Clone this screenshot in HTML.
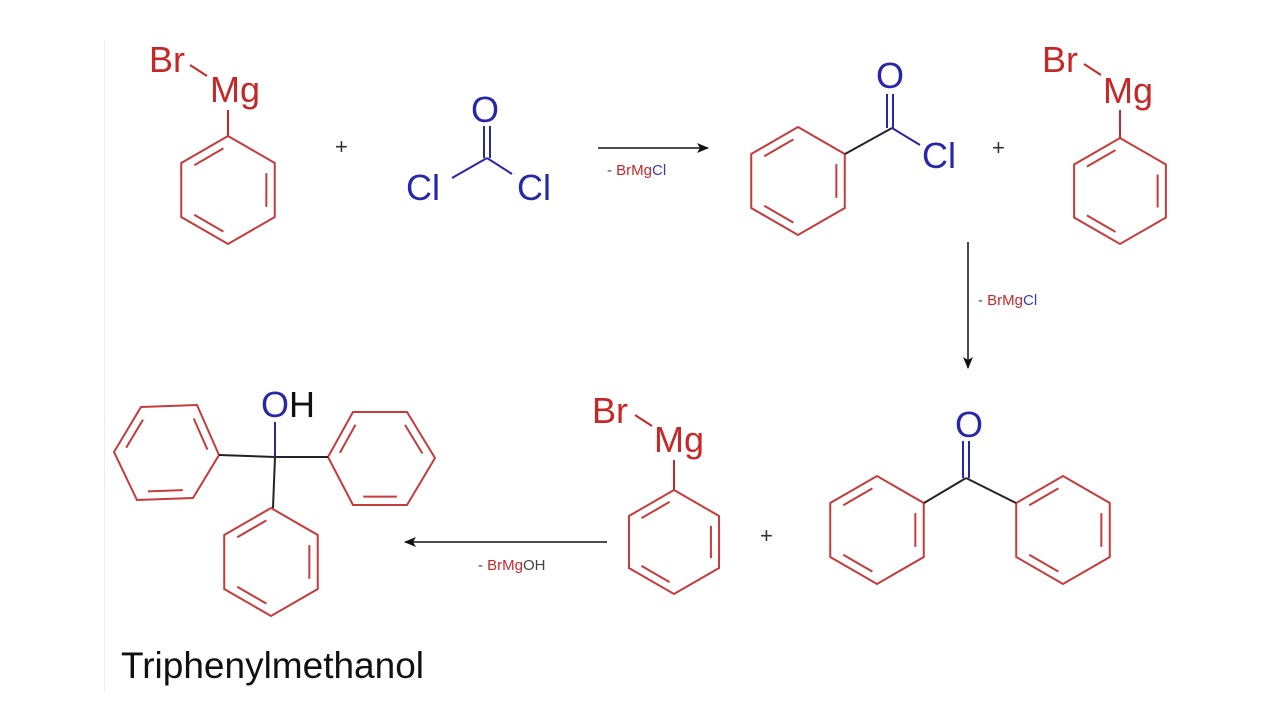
<!DOCTYPE html>
<html><head><meta charset="utf-8"><style>
html,body{margin:0;padding:0;background:#fff;}
svg{display:block;}
text{font-family:"Liberation Sans",Arial,sans-serif;}
</style></head><body>
<svg id="s" width="1280" height="720" viewBox="0 0 1280 720" xmlns="http://www.w3.org/2000/svg">
<rect width="1280" height="720" fill="#fff"/>
<line x1="104.5" y1="40" x2="104.5" y2="692" stroke="#eee" stroke-width="1"/>
<defs>
<marker id="ah" markerWidth="12" markerHeight="10" refX="11" refY="5" orient="auto" markerUnits="userSpaceOnUse">
<path d="M0,0 L12,5 L0,10 L3,5 Z" fill="#111"/></marker>
</defs>
<g id="rings" fill="none" stroke="#c63b3b" stroke-width="2"></g>
<g stroke-width="2" fill="none">
<line x1="190" y1="65" x2="207" y2="76" stroke="#c62828"/>
<line x1="228" y1="110" x2="228" y2="137" stroke="#c62828"/>
<line x1="484" y1="126" x2="484" y2="158" stroke="#2727a8"/>
<line x1="490" y1="126" x2="490" y2="158" stroke="#2727a8"/>
<line x1="487" y1="158" x2="452" y2="178" stroke="#2727a8"/>
<line x1="487" y1="158" x2="512" y2="174" stroke="#2727a8"/>
<line x1="598" y1="148" x2="708" y2="148" stroke="#111" stroke-width="1.5" marker-end="url(#ah)"/>
<line x1="845" y1="154" x2="892" y2="128" stroke="#222"/>
<line x1="892" y1="128" x2="920" y2="145" stroke="#2727a8"/>
<line x1="887" y1="94" x2="887" y2="128" stroke="#2727a8"/>
<line x1="893" y1="94" x2="893" y2="128" stroke="#2727a8"/>
<line x1="1084" y1="64" x2="1101" y2="75" stroke="#c62828"/>
<line x1="1120" y1="110" x2="1120" y2="138" stroke="#c62828"/>
<line x1="968" y1="242" x2="968" y2="368" stroke="#111" stroke-width="1.5" marker-end="url(#ah)"/>
<line x1="924" y1="503" x2="966" y2="478" stroke="#222"/>
<line x1="966" y1="478" x2="1016" y2="503" stroke="#222"/>
<line x1="963" y1="441" x2="963" y2="478" stroke="#2727a8"/>
<line x1="969" y1="441" x2="969" y2="478" stroke="#2727a8"/>
<line x1="635" y1="415" x2="652" y2="426" stroke="#c62828"/>
<line x1="674" y1="460" x2="674" y2="490" stroke="#c62828"/>
<line x1="607" y1="542" x2="405" y2="542" stroke="#111" stroke-width="1.5" marker-end="url(#ah)"/>
<line x1="219" y1="455" x2="275" y2="457" stroke="#222"/>
<line x1="275" y1="457" x2="328" y2="457" stroke="#222"/>
<line x1="275" y1="457" x2="273" y2="508" stroke="#222"/>
<line x1="275" y1="457" x2="275" y2="422" stroke="#2727a8"/>
</g>
<g font-size="36">
<text x="149" y="72" fill="#c62828">Br</text>
<text x="210" y="102" fill="#c62828">Mg</text>
<text x="471" y="122" fill="#2727a8">O</text>
<text x="406" y="200" fill="#2727a8">Cl</text>
<text x="517" y="200" fill="#2727a8">Cl</text>
<text x="876" y="88" fill="#2727a8">O</text>
<text x="922" y="168" fill="#2727a8">Cl</text>
<text x="1042" y="72" fill="#c62828">Br</text>
<text x="1103" y="103" fill="#c62828">Mg</text>
<text x="955" y="437" fill="#2727a8">O</text>
<text x="592" y="423" fill="#c62828">Br</text>
<text x="654" y="452" fill="#c62828">Mg</text>
<text x="261" y="417"><tspan fill="#2727a8">O</tspan><tspan fill="#111">H</tspan></text>
<text x="121" y="678" fill="#111" font-size="37">Triphenylmethanol</text>
</g>
<g font-size="22" fill="#333">
<text x="335" y="154">+</text>
<text x="992" y="155">+</text>
<text x="760" y="543">+</text>
</g>
<g font-size="15">
<text x="607" y="175"><tspan fill="#444">- </tspan><tspan fill="#c62828">BrMg</tspan><tspan fill="#3a3ab0">Cl</tspan></text>
<text x="978" y="305"><tspan fill="#444">- </tspan><tspan fill="#c62828">BrMg</tspan><tspan fill="#3a3ab0">Cl</tspan></text>
<text x="478" y="570"><tspan fill="#444">- </tspan><tspan fill="#c62828">BrMg</tspan><tspan fill="#444">OH</tspan></text>
</g>
</svg>
<script>
(function(){
var g=document.getElementById('rings'),NS='http://www.w3.org/2000/svg';
function ring(pts){
  var cx=0,cy=0;pts.forEach(function(p){cx+=p[0];cy+=p[1];});cx/=6;cy/=6;
  var poly=document.createElementNS(NS,'polygon');
  poly.setAttribute('points',pts.map(function(p){return p[0]+','+p[1];}).join(' '));
  g.appendChild(poly);
  [[5,0],[1,2],[3,4]].forEach(function(e){
    var a=pts[e[0]],b=pts[e[1]];
    var f=0.82;
    var a2=[cx+(a[0]-cx)*f,cy+(a[1]-cy)*f],b2=[cx+(b[0]-cx)*f,cy+(b[1]-cy)*f];
    var dx=b2[0]-a2[0],dy=b2[1]-a2[1],t=0.12;
    var l=document.createElementNS(NS,'line');
    l.setAttribute('x1',a2[0]+dx*t);l.setAttribute('y1',a2[1]+dy*t);
    l.setAttribute('x2',b2[0]-dx*t);l.setAttribute('y2',b2[1]-dy*t);
    g.appendChild(l);
  });
}
function pointy(cx,cy,r){
  var h=0.866*r;
  return [[cx,cy-r],[cx+h,cy-r/2],[cx+h,cy+r/2],[cx,cy+r],[cx-h,cy+r/2],[cx-h,cy-r/2]];
}
ring(pointy(228,190,54));
ring(pointy(798,181,54));
ring(pointy(1120,191,53));
ring(pointy(877,530,54));
ring(pointy(1063,530,54));
ring(pointy(674,542,52));
ring(pointy(271,562,54));
ring([[141,407],[197,405],[219,455],[193,498],[137,500],[114,452]]);
ring([[353,412],[407,412],[435,458],[407,505],[353,505],[328,457]]);
})();
</script>
</body></html>
